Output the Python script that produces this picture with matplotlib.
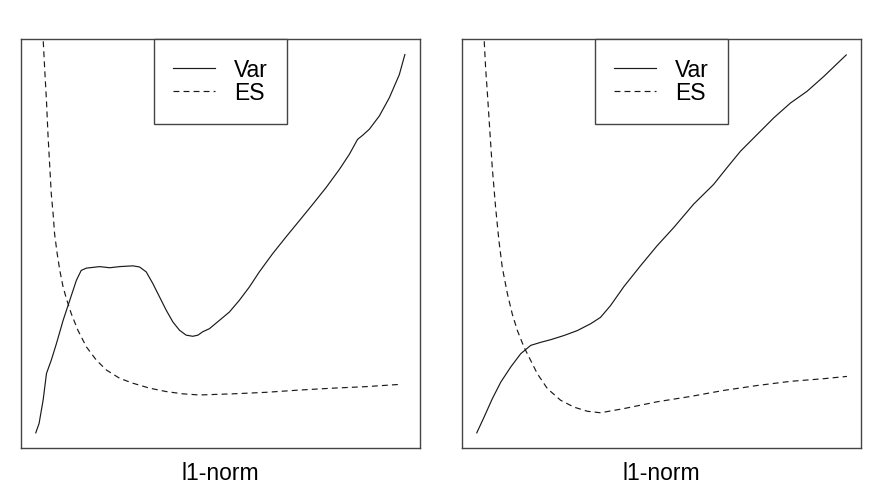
import matplotlib
matplotlib.use('Agg')
import matplotlib.pyplot as plt

# left panel: l1-norm path (arbitrary units, 0-100)
left_var_x = [0, 0.9, 2.0, 2.9, 4.2, 5.6, 7.4, 9.2, 11.0, 12.3, 13.7, 17.3, 20.0, 22.7,
              26.3, 28.1, 29.9, 31.7, 33.5, 35.3, 37.1, 38.9, 40.7, 42.5, 43.9, 45.2,
              47.0, 49.7, 52.4, 55.1, 57.8, 60.5, 64.1, 67.7, 71.4, 75.0, 78.6, 82.2,
              84.9, 87.1, 88.5, 90.3, 93.0, 95.7, 98.4, 99.9]
left_var_y = [0, 2.5, 8.7, 15.7, 19.2, 23.6, 29.7, 35.0, 40.3, 42.9, 43.5, 43.9, 43.6, 43.9,
              44.1, 43.8, 42.5, 39.4, 35.9, 32.4, 29.3, 27.1, 25.8, 25.5, 25.8, 26.7,
              27.5, 29.7, 31.9, 35.0, 38.5, 42.5, 47.3, 51.7, 56.1, 60.4, 64.8, 69.6,
              73.6, 77.5, 78.6, 80.2, 83.7, 88.5, 94.6, 99.9]
left_es_x = [1.8, 2.0, 2.4, 2.9, 3.3, 3.8, 4.2, 4.7, 5.1, 5.8, 6.5, 7.4, 8.3, 9.6, 11.4,
             13.7, 16.4, 19.1, 22.7, 26.3, 30.8, 35.3, 39.8, 44.3, 53.3, 62.3, 71.4,
             80.4, 89.4, 98.6]
left_es_y = [108.7, 103.9, 96.4, 87.6, 78.9, 70.1, 63.1, 57.8, 52.5, 47.3, 42.9, 38.5,
             35.4, 31.5, 27.1, 22.7, 19.2, 16.6, 14.4, 13.1, 11.8, 10.9, 10.3, 10.0,
             10.3, 10.7, 11.3, 11.8, 12.2, 12.8]

# right panel
right_var_x = [0, 2.0, 4.2, 6.5, 9.2, 11.9, 14.6, 17.3, 20.0, 23.6, 27.2, 30.8, 33.5,
               36.2, 39.8, 44.3, 48.8, 53.3, 58.7, 64.1, 67.7, 71.4, 75.9, 80.4, 84.9,
               89.4, 93.9, 100]
right_var_y = [0, 4.2, 9.0, 13.4, 17.4, 20.9, 23.1, 23.9, 24.6, 25.7, 27.0, 28.8, 30.5,
               33.6, 38.6, 44.1, 49.4, 54.2, 60.4, 65.6, 70.0, 74.4, 78.8, 83.2, 87.1,
               90.2, 94.1, 99.8]
right_es_x = [1.8, 2.0, 2.4, 2.9, 3.6, 4.2, 5.1, 6.0, 6.9, 8.3, 9.6, 11.0, 12.8, 14.6,
              16.4, 19.1, 22.7, 26.3, 29.9, 33.5, 39.8, 48.8, 57.8, 66.8, 75.9, 84.9,
              93.9, 100.2]
right_es_y = [108.7, 103.8, 96.3, 89.3, 78.8, 70.0, 59.5, 50.7, 43.7, 36.7, 31.4, 27.0,
              22.6, 19.1, 15.6, 11.7, 8.6, 6.8, 5.7, 5.3, 6.4, 8.2, 9.6, 11.2, 12.5,
              13.6, 14.3, 14.9]

series_labels = ['Var', 'ES']
x_label = 'l1-norm'

plt.rcParams['font.family'] = ['Liberation Sans', 'DejaVu Sans']

fig = plt.figure(figsize=(8.82, 4.88), dpi=100)
panels = [
    (0.0238, left_var_x, left_var_y, left_es_x, left_es_y),
    (0.5238, right_var_x, right_var_y, right_es_x, right_es_y),
]

for left, vx, vy, ex, ey in panels:
    ax = fig.add_axes([left, 0.082, 0.4524, 0.838])
    ax.plot(vx, vy, color='#1a1a1a', linewidth=0.85, label=series_labels[0])
    ax.plot(ex, ey, color='#1a1a1a', linewidth=0.85, dashes=(5, 3.5), label=series_labels[1])
    ax.set_xlim(-4, 104)
    ax.set_ylim(-4, 104)
    ax.set_xticks([])
    ax.set_yticks([])
    for sp in ax.spines.values():
        sp.set_color('#444444')
        sp.set_linewidth(1.0)
    ax.set_xlabel(x_label, fontsize=16.5, labelpad=10)
    leg = ax.legend(loc='upper center', bbox_to_anchor=(0.5, 1.0), borderaxespad=0,
                    fancybox=False, edgecolor='#444444', fontsize=16.5,
                    handlelength=1.83, handletextpad=0.83, labelspacing=0.0,
                    borderpad=0.85, framealpha=1)
    leg.get_frame().set_linewidth(1.0)

fig.savefig('out.png', dpi=100)
